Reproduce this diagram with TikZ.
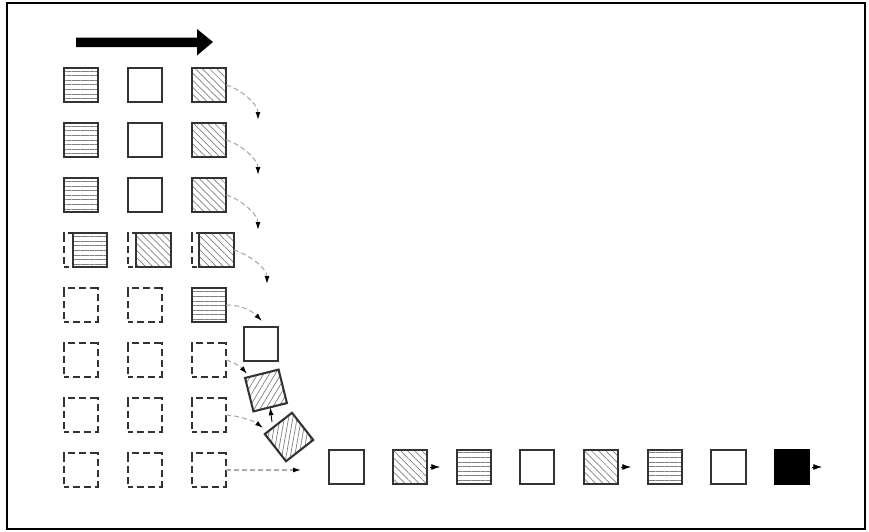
\documentclass[tikz,border=0pt]{standalone}
\usetikzlibrary{arrows.meta,patterns.meta}
\definecolor{sqc}{HTML}{333333}
\definecolor{hatchc}{HTML}{808080}
\definecolor{darrc}{HTML}{AAAAAA}
\begin{document}
\begin{tikzpicture}[x=1pt,y=-1pt,
  sqbase/.style={draw=sqc,line width=2.1pt,minimum size=34.5pt,inner sep=0pt,outer sep=0pt},
  wsq/.style={sqbase,fill=white},
  bsq/.style={sqbase,fill=black,draw=black},
  hsq/.style={sqbase,preaction={fill=white},pattern={Lines[angle=0,distance=4.6pt,line width=0.7pt]},pattern color=hatchc},
  dsq/.style={sqbase,preaction={fill=white},pattern={Lines[angle=-45,distance=5pt,line width=0.7pt]},pattern color=hatchc},
  gsq/.style={draw=sqc,line width=1.8pt,minimum size=34.5pt,inner sep=0pt,outer sep=0pt,
     dash pattern=on 10pt off 4pt on 7pt off 4pt on 7pt off 4pt,dash phase=5pt},
  darr/.style={draw=darrc,line width=1.1pt,dash pattern=on 5pt off 3pt,
     -{Latex[color=black,length=8pt,width=5pt]}},
  sarr/.style={draw=black,line width=0.9pt,-{Latex[length=8pt,width=5pt]}},
  tarr/.style={draw=black,line width=0.9pt,-{Latex[length=9pt,width=6pt]}}]
\useasboundingbox (0,0) rectangle (869,531);
\draw[line width=2.5pt] (7,3) rectangle (865,529);
% big arrow
\fill (76,37.5) -- (197,37.5) -- (197,29) -- (213,42) -- (197,55.5) -- (197,47) -- (76,47) -- cycle;
% rows 1-3
\foreach \r/\y in {1/85,2/140,3/195}{
  \node[hsq] (g\r1) at (81,\y) {};
  \node[wsq] (g\r2) at (145,\y) {};
  \node[dsq] (g\r3) at (209,\y) {};
}
% row 4
\node[gsq] (g41) at (81,250) {};
\node[gsq] (g42) at (145,250) {};
\node[gsq] (g43) at (209,250) {};
\node[hsq] (s41) at (90,250) {};
\node[dsq] (s42) at (153.5,250) {};
\node[dsq] (s43) at (216.5,250) {};
% row 5
\node[gsq] (g51) at (81,305) {};
\node[gsq] (g52) at (145,305) {};
\node[hsq] (g53) at (209,305) {};
% rows 6-8
\foreach \r/\y in {6/360,7/415,8/470}{
  \node[gsq] (g\r1) at (81,\y) {};
  \node[gsq] (g\r2) at (145,\y) {};
  \node[gsq] (g\r3) at (209,\y) {};
}
% moving squares
\node[wsq] (r1) at (261,344) {};
\node[sqbase,preaction={fill=white},pattern={Lines[angle=59,distance=5pt,line width=0.7pt]},pattern color=hatchc,rotate=14] (r2) at (266,390.5) {};
\node[sqbase,preaction={fill=white},pattern={Lines[angle=80,distance=4.2pt,line width=0.7pt]},pattern color=hatchc,rotate=38] (r3) at (289,437) {};
% bottom row
\node[wsq] (b1) at (346.5,467) {};
\node[dsq] (b2) at (410,467) {};
\node[hsq] (b3) at (474,467) {};
\node[wsq] (b4) at (537,467) {};
\node[dsq] (b5) at (601,467) {};
\node[hsq] (b6) at (665,467) {};
\node[wsq] (b7) at (728.5,467) {};
\node[bsq] (b8) at (792,467) {};
% arrow end coordinates
\coordinate (t1) at (258,120);
\coordinate (t2) at (258,175);
\coordinate (t3) at (258,230);
\coordinate (t4) at (267,284);
\coordinate (t5) at (262,321);
\coordinate (t6) at (247,374);
\coordinate (t7) at (263,428);
\coordinate (t8) at (301,470);
\coordinate (u1) at (272,422);
% dashed arrows
\draw[darr] (g13.east) .. controls +(14,4) and +(0,-16) .. (t1);
\draw[darr] (g23.east) .. controls +(14,4) and +(0,-16) .. (t2);
\draw[darr] (g33.east) .. controls +(14,4) and +(0,-16) .. (t3);
\draw[darr] (s43.east) .. controls +(14,4) and +(0,-16) .. (t4);
\draw[darr] (g53.east) .. controls +(16,0) and +(-10,-10) .. (t5);
\draw[darr] (g63.east) .. controls +(8,2) and +(-5,-6) .. (t6);
\draw[darr] (g73.east) .. controls +(14,1) and +(-9,-7) .. (t7);
\draw[darr] (g83.east) -- (t8);
\draw[sarr] (u1) -- (r2.south);
% small output arrows
\draw[tarr] ([xshift=3pt]b2.east) -- ++(10,0);
\draw[tarr] ([xshift=3pt]b5.east) -- ++(10,0);
\draw[tarr] ([xshift=3pt]b8.east) -- ++(10,0);
\end{tikzpicture}
\end{document}
